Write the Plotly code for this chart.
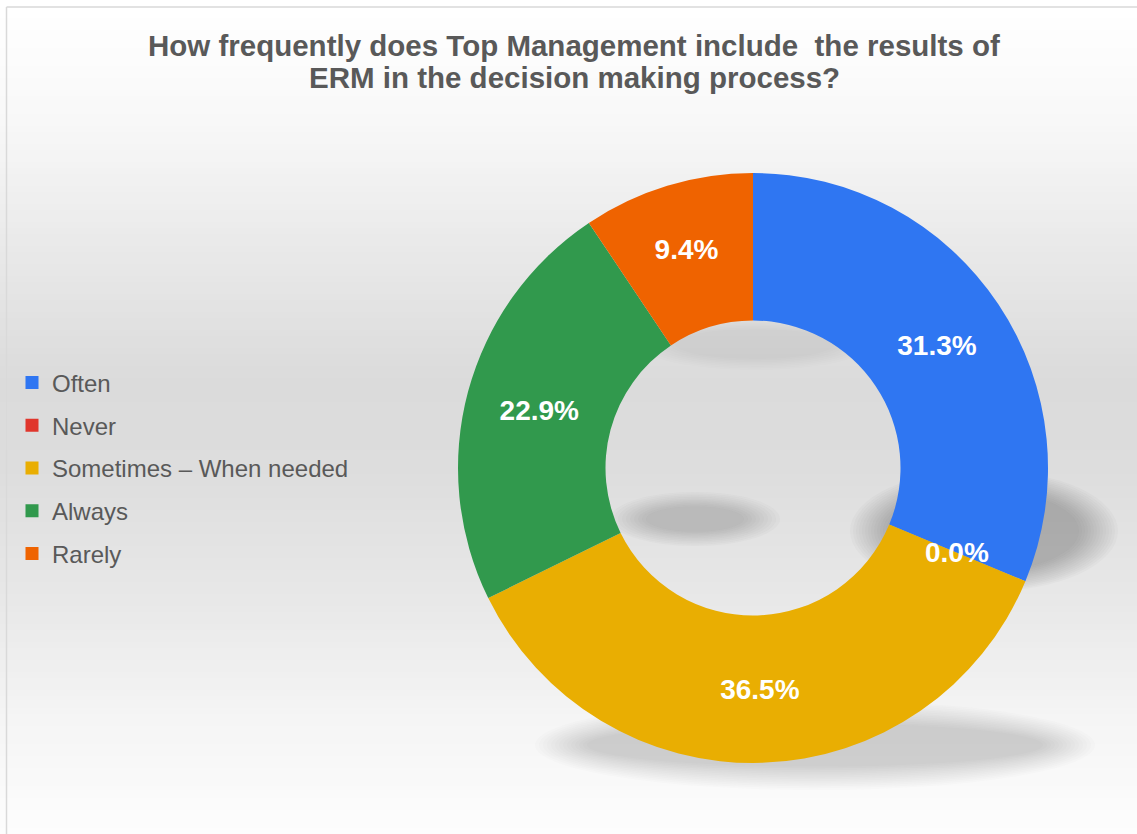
import math
import plotly.graph_objects as go

# Survey responses (share of respondents, %)
categories = ["Often", "Never", "Sometimes – When needed", "Always", "Rarely"]
shares = [31.3, 0.0, 36.5, 22.9, 9.4]
colors = ["#2f76f2", "#e0362c", "#e9ae02", "#31994d", "#ef6300"]

title_lines = ["How frequently does Top Management include\u00a0 the results of",
               "ERM in the decision making process?"]

W, H = 1137, 834
CX, CY, R = 753, 468, 295          # donut centre / outer radius (px)
HOLE = 0.5
FONT = "Liberation Sans, Arial, sans-serif"

fig = go.Figure()

# Background: soft vertical gradient (white -> light grey -> white)
stops = [(0, 255), (7, 255), (120, 248), (250, 233), (380, 219), (470, 221),
         (600, 232), (720, 245), (834, 253)]
def shade(y):
    for (y0, c0), (y1, c1) in zip(stops, stops[1:]):
        if y0 <= y <= y1:
            t = (y - y0) / (y1 - y0) if y1 > y0 else 0
            return round(c0 + (c1 - c0) * t)
    return 255

shapes = []
step = 6
for y in range(0, H, step):
    g = shade(y + step / 2)
    shapes.append(dict(type="rect", xref="paper", yref="paper", layer="below",
                       x0=0, x1=1, y0=1 - (y + step) / H, y1=1 - y / H,
                       line=dict(width=0), fillcolor=f"rgb({g},{g},{g})"))

# Frame lines (top and left)
shapes.append(dict(type="line", xref="paper", yref="paper", layer="below",
                   x0=6.5 / W, x1=1, y0=1 - 7 / H, y1=1 - 7 / H,
                   line=dict(color="#d9d9d9", width=1.5)))
shapes.append(dict(type="line", xref="paper", yref="paper", layer="below",
                   x0=6.5 / W, x1=6.5 / W, y0=0, y1=1 - 7 / H,
                   line=dict(color="#d9d9d9", width=1.5)))

# Soft drop shadows below the ring (many stacked faint ellipses to fake a blur)
def soft_shadow(x0, y0, x1, y1, layers=12, alpha=0.025, dx=3.0, dy=1.6):
    for i in range(layers):
        shapes.append(dict(type="circle", xref="paper", yref="paper", layer="below",
                           x0=(x0 + i * dx) / W, x1=(x1 - i * dx) / W,
                           y0=1 - (y1 - i * dy) / H, y1=1 - (y0 + i * dy) / H,
                           line=dict(width=0), fillcolor=f"rgba(80,80,80,{alpha})"))

soft_shadow(850, 470, 1118, 592, layers=14, alpha=0.028)
soft_shadow(535, 700, 1095, 790, layers=14, alpha=0.02, dx=4, dy=1.8)
soft_shadow(610, 492, 780, 546, layers=10, alpha=0.03, dx=4, dy=1.6)
soft_shadow(640, 318, 870, 370, layers=8, alpha=0.012, dx=5, dy=1.6)

fig.add_trace(go.Pie(
    labels=categories, values=shares, sort=False, direction="clockwise",
    rotation=0, hole=HOLE, showlegend=False,
    marker=dict(colors=colors, line=dict(width=0)),
    texttemplate=["%{value:.1f}%" if v > 0 else "" for v in shares],
    textposition="inside", insidetextorientation="horizontal",
    textfont=dict(family=FONT, size=28, color="white", weight="bold"),
    hovertemplate="%{label}: %{value:.1f}%<extra></extra>",
    domain=dict(x=[(CX - R) / W, (CX + R) / W],
                y=[(H - CY - R) / H, (H - CY + R) / H]),
))

# Labels for empty slices sit on the ring at the slice's angle
annotations = []
total = sum(shares)
cum = 0.0
mid_r = R * (1 + HOLE) / 2
for v in shares:
    if v <= 0:
        ang = 2 * math.pi * (cum + v / 2) / total
        px = CX + mid_r * math.sin(ang)
        py = CY - mid_r * math.cos(ang)
        annotations.append(dict(x=px / W, y=1 - py / H, xref="paper", yref="paper",
                                xanchor="center", yanchor="middle",
                                text=f"{v:.1f}%", showarrow=False,
                                font=dict(family=FONT, size=28, color="white",
                                          weight="bold")))
    cum += v

# Title, one annotation per line
for line, ypx in zip(title_lines, [45, 78]):
    annotations.append(dict(x=574 / W, y=1 - ypx / H, xref="paper", yref="paper",
                            xanchor="center", yanchor="middle", showarrow=False,
                            text=line,
                            font=dict(family=FONT, size=29.5, color="#595959",
                                      weight="bold")))

# Legend entries (square markers)
for i, (name, col) in enumerate(zip(categories, colors)):
    fig.add_trace(go.Scatter(x=[None], y=[None], mode="markers", name=name,
                             legendgroup=f"g{i}", hoverinfo="skip",
                             marker=dict(symbol="square", size=13, color=col)))

fig.update_layout(
    width=W, height=H, margin=dict(l=0, r=0, t=0, b=0),
    paper_bgcolor="white", plot_bgcolor="rgba(0,0,0,0)",
    shapes=shapes, annotations=annotations,
    xaxis=dict(visible=False), yaxis=dict(visible=False),
    legend=dict(x=12 / W, y=1 - 468 / H, xanchor="left", yanchor="middle",
                bgcolor="rgba(0,0,0,0)", tracegroupgap=8.5,
                font=dict(family=FONT, size=24, color="#595959")),
    font=dict(family=FONT),
)

fig.write_html("out.html", config={"displayModeBar": False})
